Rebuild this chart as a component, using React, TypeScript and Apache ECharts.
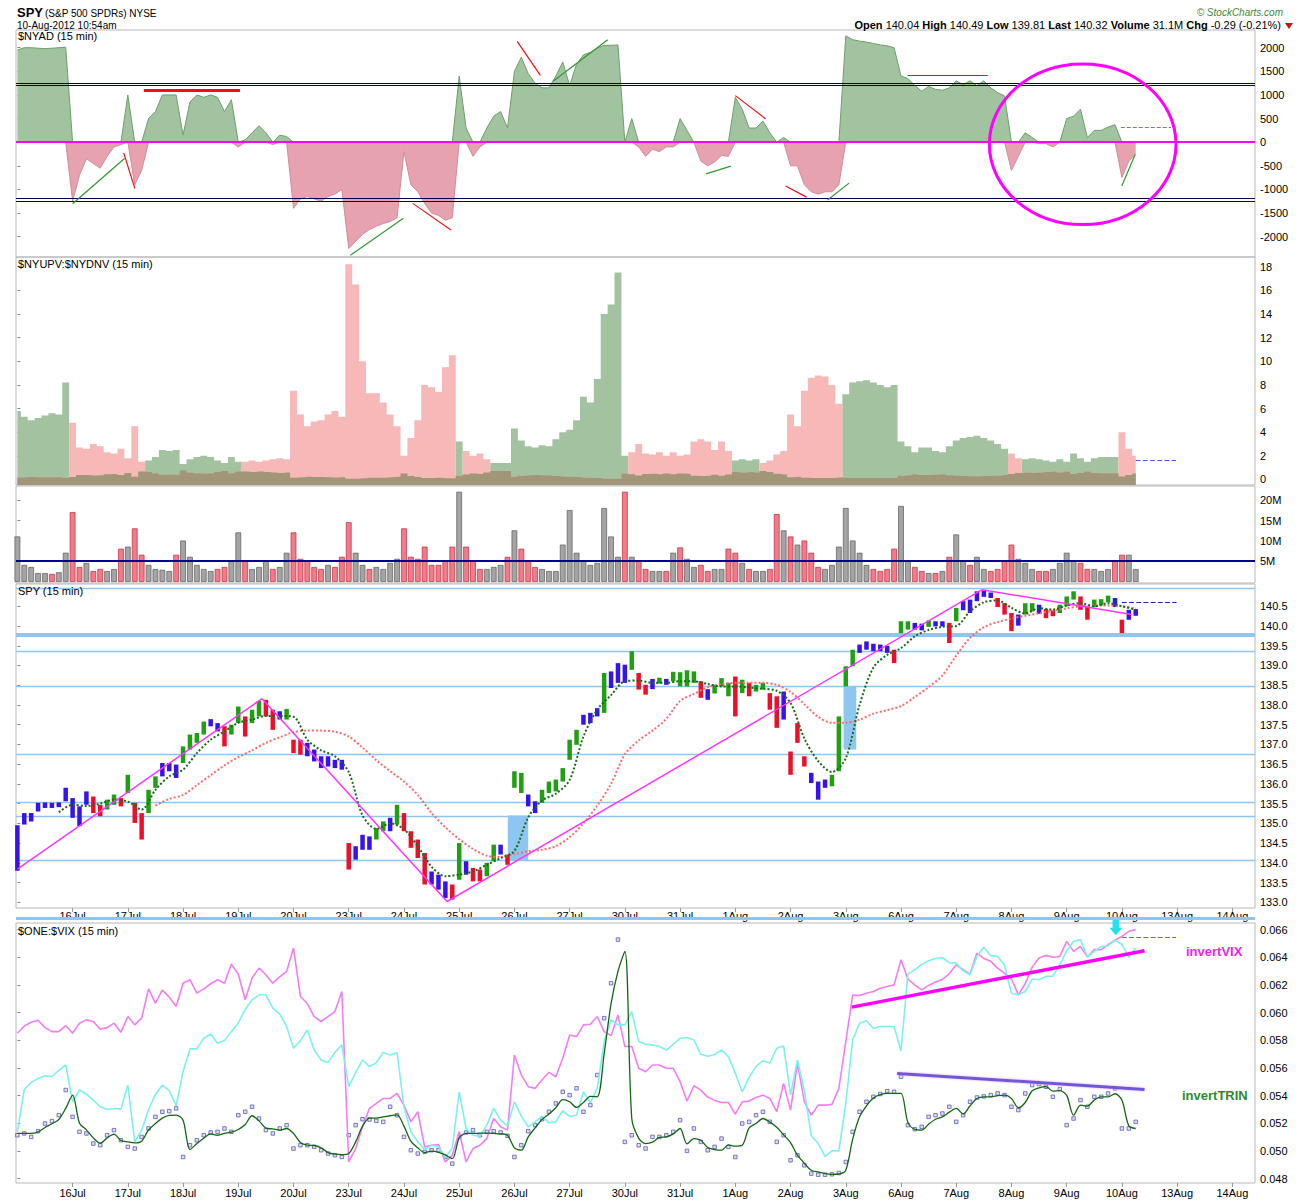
import React, { useEffect, useRef } from "react";
import * as echarts from "echarts";

// ---------- axes / time ----------
const STEP = 1 / 8; // trading-day fraction per data point
const MA_STEP = 1 / 4;
const GREEN_MA_START = 0.75;
const RED_MA_START = 2.5;
const X_MIN = -0.025;
const X_MAX = 22.41;

const DAY_LABELS = ["13Jul", "16Jul", "17Jul", "18Jul", "19Jul", "20Jul", "23Jul", "24Jul", "25Jul", "26Jul", "27Jul", "30Jul", "31Jul", "1Aug", "2Aug", "3Aug", "6Aug", "7Aug", "8Aug", "9Aug", "10Aug", "13Aug", "14Aug"];
const DAY_TICKS = [1, 2, 3, 4, 5, 6, 7, 8, 9, 10, 11, 12, 13, 14, 15, 16, 17, 18, 19, 20, 21, 22];

const NYAD_TICKS = [-2000, -1500, -1000, -500, 0, 500, 1000, 1500, 2000];
const RATIO_TICKS = [0, 2, 4, 6, 8, 10, 12, 14, 16, 18];
const VOL_TICKS = [5, 10, 15, 20];
const SPY_TICKS = [133.0, 133.5, 134.0, 134.5, 135.0, 135.5, 136.0, 136.5, 137.0, 137.5, 138.0, 138.5, 139.0, 139.5, 140.0, 140.5];
const VIX_TICKS = [0.048, 0.05, 0.052, 0.054, 0.056, 0.058, 0.06, 0.062, 0.064, 0.066];

// ---------- $NYAD ----------
const nyad = [
  1950, 2000, 2000, 1990, 1980, 1990, 2000, 2010,
  -1250, -700, -350, -450, -550, -300, -100, -50,
  1000, -900, -600, 500, 650, 1000, 1000, 1000,
  150, 850, 1000, 950, 1000, 950, 650, 900,
  -100, 50, 200, 350, 200, -50, 150, 120,
  -1400, -1200, -1150, -1200, -1250, -1150, -1100, -1000,
  -2250, -2100, -1950, -1850, -1780, -1720, -1680, -1600,
  -200, -900, -1050, -1300, -1500, -1550, -1650, -1600,
  1400, 300, -300, -100, 300, 550, 650, 300,
  1500, 1800, 1450, 1250, 1150, 1150, 1400, 1700,
  1200, 1650, 1850, 1900, 1990, 2050, 2050, 2060,
  0, 500, -100, -300, -150, -200, -100, -100,
  500, 250, 0, -400, -500, -420, -280, -300,
  950, 700, 300, 300, 450, 200, 0, 100,
  -500, -500, -900, -1050, -1100, -1050, -1050, -900,
  2250, 2170, 2140, 2120, 2090, 2060, 2040, 2000,
  1400, 1350, 1200, 1080, 1180, 1120, 1100, 1150,
  1300, 1220, 1300, 1200, 1300, 1150, 1050, 980,
  -600, -300, 200, 100, -30, -30, -100, 0,
  500, 550, 700, 100, 250, 250, 320, 370,
  -750, -400, -250,
];
const NYAD_LEVELS = [1258, 1196, -1188, -1250];
const nyadGreenLines = [
  [1.0, -1302, 1.94, -345],
  [6.03, -2394, 6.99, -1612],
  [9.7, 1288, 10.69, 2168],
  [12.47, -669, 12.92, -507],
  [14.67, -1225, 15.06, -866],
  [19.997, -929, 20.24, -260],
];
const nyadRedLines = [
  [1.925, -225, 2.127, -979],
  [7.16, -1295, 7.85, -1859],
  [9.05, 2133, 9.47, 1415],
  [13.0, 986, 13.55, 493],
  [13.91, -929, 14.29, -1162],
  [16.12, 1415, 17.57, 1415],
];
const nyadThickRedLine = [2.29, 1091, 4.03, 1091];
const nyadLastLine = [19.98, 317, 20.89, 317];
const nyadCircle = [19.29, -43, 1.69, 1700]; // centre t, centre value, radius in days, radius in value

// ---------- $NYUPV:$NYDNV (dominant side ratio: + up volume dominant, - down volume dominant) ----------
const dominantRatio = [
  5.8, 5.3, 5.0, 5.2, 5.4, 5.6, 5.5, 8.2,
  -4.8, -2.7, -2.6, -3.0, -2.8, -2.3, -2.2, -2.6,
  -1.8, -4.5, -1.5, 1.6, 1.9, 2.5, 2.4, 2.5,
  1.3, 1.7, 1.9, 2.0, 1.9, 1.6, 1.4, 1.9,
  1.5, -1.5, -1.6, -1.5, -1.6, -1.7, -1.8, -1.7,
  -7.5, -5.5, -4.5, -4.9, -5.0, -5.5, -5.8, -5.3,
  -18.2, -16.5, -10.0, -7.3, -7.3, -6.5, -5.5, -4.5,
  -2.0, -3.5, -5.0, -8.0, -7.8, -7.4, -9.5, -10.5,
  3.2, -2.4, -2.0, -2.2, -1.7, 1.4, 1.4, 1.4,
  4.3, 3.3, 2.8, 2.7, 2.9, 2.8, 3.4, 4.0,
  4.2, 5.0, 7.0, 6.5, 8.5, 14.0, 14.8, 17.5,
  2.0, -2.3, -3.0, -2.2, -2.1, -2.3, -2.0, -2.3,
  -2.0, -2.1, -3.2, -3.4, -3.2, -2.5, -3.2, -2.4,
  1.6, 1.7, 1.6, 1.7, -1.4, -1.6, -2.1, -2.4,
  -5.5, -4.5, -7.5, -8.6, -8.8, -8.7, -8.0, -6.4,
  7.2, 8.2, 8.3, 8.4, 8.2, 8.0, 7.8, 8.0,
  3.2, 2.8, 2.3, 2.7, 2.7, 2.4, 2.3, 2.8,
  3.3, 3.5, 3.6, 3.7, 3.5, 3.3, 3.0, 2.6,
  -2.2, -1.8, 1.7, 1.8, 1.7, 1.6, 1.5, 1.7,
  1.5, 2.2, 1.8, 1.5, 1.8, 1.9, 1.9, 1.9,
  -4.0, -2.6, -2.0,
];
const ratioLastLine = [20.25, 1.64, 20.98, 1.64];

// ---------- SPY volume (millions) ----------
const volume = [
  11, 4, 3.5, 2, 2, 1.8, 2.2, 7,
  17, 3.5, 4.5, 2.5, 3, 2.5, 3, 8,
  8.5, 13, 6.5, 4, 3, 2.8, 2.5, 6.5,
  10, 6, 4, 3, 2.5, 3, 3.5, 5,
  12, 5, 3, 3.5, 5, 3, 3.5, 7,
  12, 5.5, 5, 3.5, 3, 4, 3.5, 6,
  14.5, 7, 4, 3, 3.5, 3, 4.5, 5.5,
  13, 6, 5.5, 8.5, 4, 4, 5, 8.5,
  22, 8.5, 5, 3, 3, 3.5, 4, 6,
  12.5, 8, 5, 3.5, 3, 2.5, 2.5, 9,
  17.5, 7, 5, 4, 4.5, 18, 11, 6,
  22, 6, 5, 3, 2.5, 2.5, 2.5, 7,
  8.3, 5.5, 3.5, 4, 2.5, 3, 3, 8,
  7, 4.5, 3, 2.5, 2.5, 3, 16.5, 12.5,
  11, 9, 10, 7, 3.5, 3, 4, 8.5,
  18, 10, 7, 4, 3, 2.5, 3, 8,
  18.5, 5, 3.5, 2.5, 2, 2, 2.5, 6,
  11.5, 5, 4, 6, 3, 2.5, 3, 5,
  9, 5.5, 4.5, 3, 2.5, 2.5, 3, 4.5,
  7, 5, 4.5, 3, 3, 2.5, 3, 5,
  6.5, 6.5, 3,
];
const VOLUME_LEVEL = 5;

// ---------- SPY price ----------
const spyLow = [
  133.80, 134.97, 135.05, 135.30, 135.39, 135.39, 135.41, 135.56,
  135.14, 134.93, 135.47, 135.26, 135.18, 135.35, 135.47, 135.43,
  135.77, 135.01, 134.59, 135.26, 135.90, 136.19, 136.32, 136.15,
  136.53, 136.87, 137.04, 137.25, 137.46, 137.33, 136.95, 137.25,
  137.54, 137.20, 137.54, 137.71, 137.71, 137.37, 137.63, 137.63,
  136.78, 136.74, 136.70, 136.57, 136.40, 136.44, 136.40, 136.36,
  133.83, 134.08, 134.33, 134.33, 134.59, 134.80, 134.80, 134.97,
  134.80, 134.38, 134.12, 133.45, 133.45, 133.32, 133.11, 133.07,
  133.57, 133.70, 133.53, 133.53, 133.66, 134.04, 134.21, 133.95,
  135.90, 135.77, 135.43, 135.26, 135.52, 135.77, 135.81, 136.06,
  136.61, 136.99, 137.50, 137.54, 137.71, 137.80, 138.43, 138.56,
  138.56, 138.89, 138.39, 138.26, 138.40, 138.54, 138.51, 138.60,
  138.47, 138.47, 138.56, 138.18, 138.13, 138.29, 138.47, 138.22,
  137.71, 138.30, 138.22, 138.34, 138.39, 137.88, 137.42, 137.63,
  136.23, 137.04, 136.44, 136.02, 135.60, 135.90, 135.94, 136.32,
  138.47, 138.98, 139.32, 139.40, 139.36, 139.36, 139.32, 139.06,
  139.82, 139.91, 139.91, 139.89, 139.98, 139.99, 139.99, 139.57,
  140.12, 140.40, 140.33, 140.63, 140.74, 140.71, 140.48, 140.29,
  139.87, 140.01, 140.29, 140.37, 140.31, 140.20, 140.25, 140.33,
  140.50, 140.67, 140.41, 140.16, 140.48, 140.52, 140.60, 140.48,
  139.82, 140.16, 140.26,
];
const spyHigh = [
  134.95, 135.26, 135.26, 135.52, 135.53, 135.52, 135.53, 135.90,
  135.64, 135.43, 135.81, 135.68, 135.47, 135.60, 135.73, 135.64,
  136.23, 135.52, 135.26, 135.85, 136.19, 136.53, 136.53, 136.49,
  136.95, 137.25, 137.29, 137.58, 137.64, 137.54, 137.46, 137.50,
  137.96, 137.71, 137.88, 138.10, 138.13, 137.88, 137.84, 137.90,
  137.12, 137.12, 137.04, 136.87, 136.70, 136.70, 136.61, 136.61,
  134.50, 134.42, 134.71, 134.67, 134.88, 135.05, 135.14, 135.47,
  135.26, 134.80, 134.59, 134.25, 133.78, 133.70, 133.53, 133.45,
  134.50, 134.04, 133.87, 133.83, 134.00, 134.46, 134.46, 134.21,
  136.32, 136.28, 135.73, 135.56, 135.85, 136.06, 136.11, 136.40,
  137.12, 137.37, 137.75, 137.80, 137.92, 138.81, 138.85, 139.06,
  139.02, 139.36, 138.81, 138.51, 138.66, 138.69, 138.66, 138.84,
  138.83, 138.88, 138.85, 138.60, 138.40, 138.51, 138.68, 138.56,
  138.72, 138.64, 138.56, 138.51, 138.56, 138.30, 138.22, 138.34,
  136.82, 137.54, 136.70, 136.28, 136.06, 136.11, 136.23, 137.71,
  138.98, 139.40, 139.53, 139.61, 139.55, 139.53, 139.50, 139.40,
  140.12, 140.12, 140.08, 140.06, 140.14, 140.12, 140.12, 140.08,
  140.46, 140.63, 140.67, 140.88, 140.90, 140.85, 140.71, 140.58,
  140.33, 140.29, 140.58, 140.58, 140.54, 140.43, 140.40, 140.54,
  140.75, 140.88, 140.75, 140.50, 140.67, 140.68, 140.77, 140.71,
  140.16, 140.41, 140.43,
];
// impulse state: 1 bullish, 0 neutral, -1 bearish
const spyImpulse = [
  0, 0, 0, 0, 0, 0, 0, 0,
  0, 0, 0, -1, -1, 1, 1, -1,
  1, -1, -1, 1, 1, 0, 0, 0,
  1, 1, 1, 1, 0, 0, -1, 1,
  1, -1, 1, 1, -1, -1, 0, 1,
  -1, -1, 0, 0, 0, 0, 0, 0,
  -1, 0, 0, 0, 1, 1, 0, 1,
  -1, -1, -1, -1, 0, 0, 0, -1,
  1, 0, -1, -1, 1, 1, 0, -1,
  1, 1, 0, 0, 1, 1, 1, 1,
  1, 1, 0, 0, 0, 1, 0, 0,
  0, 1, -1, -1, 0, 1, 0, 1,
  1, 1, 1, -1, 0, 1, 1, 1,
  -1, 1, -1, 1, 1, -1, -1, 0,
  -1, -1, -1, 0, 0, 0, 1, 1,
  1, 1, 0, 0, 0, 0, 0, -1,
  1, 1, 0, 0, 1, 0, 0, -1,
  1, 0, 0, 0, 0, 0, -1, -1,
  -1, 0, 1, 1, 0, -1, -1, 1,
  1, 1, -1, -1, 1, 1, 1, 0,
  -1, 0, 0,
];
const spyFastMA = [
  135.28, 135.47, 135.44, 135.50, 135.60, 135.55, 135.35, 135.85, 136.19, 136.36,
  136.78, 137.12, 137.33, 137.55, 137.63, 137.72, 137.72, 137.70, 137.12, 136.85,
  136.70, 136.30, 135.20, 134.86, 135.00, 134.85, 134.42, 133.90, 133.66, 133.70,
  133.78, 133.95, 134.12, 134.30, 135.15, 135.58, 135.75, 136.10, 137.20, 137.88,
  138.25, 138.60, 138.62, 138.56, 138.56, 138.60, 138.60, 138.53, 138.47, 138.47,
  138.44, 138.41, 138.36, 138.05, 137.15, 136.58, 136.30, 136.65, 138.00, 138.95,
  139.27, 139.44, 139.74, 139.90, 139.98, 140.00, 140.37, 140.60, 140.65, 140.46,
  140.32, 140.45, 140.42, 140.52, 140.58, 140.50, 140.58, 140.50, 140.41,
];
const spySlowMA = [
  135.45, 135.62, 135.72, 135.97, 136.22, 136.47, 136.68, 136.85, 137.04, 137.18,
  137.31, 137.35, 137.35, 137.32, 137.20, 136.92, 136.60, 136.32, 136.06, 135.72,
  135.26, 134.90, 134.60, 134.35, 134.18, 134.15, 134.22, 134.29, 134.33, 134.42,
  134.65, 135.00, 135.45, 136.00, 136.75, 137.10, 137.35, 137.65, 138.10, 138.28,
  138.45, 138.53, 138.56, 138.56, 138.56, 138.51, 138.33, 138.02, 137.70, 137.55,
  137.55, 137.63, 137.78, 137.87, 137.97, 138.20, 138.45, 138.75, 139.25, 139.70,
  139.97, 140.10, 140.19, 140.26, 140.32, 140.39, 140.45, 140.50, 140.52, 140.52,
  140.50, 140.45,
];
const SPY_LEVELS = [140.96, 139.36, 138.47, 136.75, 135.53, 135.19, 134.07];
const SPY_KEY_LEVEL = 139.77;
const spyTrendLines = [
  [0, 133.84, 4.43, 138.16],
  [4.43, 138.16, 7.78, 133.02],
  [7.78, 133.02, 17.47, 140.92],
  [17.47, 140.92, 20.18, 140.29],
];
const spyGapBoxes = [
  [8.88, 135.2, 9.25, 134.06],
  [14.96, 138.47, 15.19, 136.87],
];
const spyLastLine = [20.0, 140.6, 20.99, 140.6];

// ---------- $ONE:$VIX panel ----------
const oneVix = [
  0.05139, 0.05445, 0.05496, 0.05525, 0.05544, 0.05537, 0.05583, 0.05622,
  0.05356, 0.05441, 0.05412, 0.05368, 0.05320, 0.05300, 0.05308, 0.05303,
  0.05477, 0.05066, 0.05151, 0.05300, 0.05409, 0.05477, 0.05436, 0.05327,
  0.05573, 0.05738, 0.05738, 0.05815, 0.05846, 0.05779, 0.05798, 0.05863,
  0.05924, 0.06023, 0.06093, 0.06129, 0.06129, 0.06032, 0.05991, 0.05900,
  0.05743, 0.05798, 0.05875, 0.05730, 0.05658, 0.05639, 0.05713, 0.05767,
  0.05465, 0.05566, 0.05658, 0.05610, 0.05639, 0.05713, 0.05694, 0.05711,
  0.05320, 0.05139, 0.05066, 0.05011, 0.05042, 0.05032, 0.04953, 0.05023,
  0.05428, 0.05163, 0.05114, 0.05107, 0.05187, 0.05308, 0.05223, 0.05180,
  0.05356, 0.05252, 0.05175, 0.05211, 0.05252, 0.05204, 0.05211, 0.05291,
  0.05250, 0.05259, 0.05428, 0.05349, 0.05453, 0.05791, 0.05948, 0.05912,
  0.05912, 0.06008, 0.05791, 0.05771, 0.05767, 0.05755, 0.05730, 0.05771,
  0.05815, 0.05820, 0.05803, 0.05699, 0.05685, 0.05697, 0.05730, 0.05682,
  0.05561, 0.05428, 0.05532, 0.05612, 0.05653, 0.05636, 0.05743, 0.05759,
  0.05404, 0.05658, 0.05436, 0.05112, 0.05054, 0.04962, 0.05001, 0.05003,
  0.05344, 0.05803, 0.05924, 0.05941, 0.05885, 0.05900, 0.05900, 0.05900,
  0.05723, 0.06279, 0.06310, 0.06349, 0.06375, 0.06392, 0.06397, 0.06361,
  0.06358, 0.06303, 0.06274, 0.06407, 0.06472, 0.06412, 0.06407, 0.06342,
  0.06141, 0.06129, 0.06153, 0.06243, 0.06238, 0.06262, 0.06264, 0.06346,
  0.06448, 0.06515, 0.06528, 0.06402, 0.06443, 0.06477, 0.06484, 0.06523,
  0.06494, 0.06400, 0.06467,
];
const invertVix = [
  0.05851, 0.05904, 0.05931, 0.05945, 0.05892, 0.05863, 0.05863, 0.05907,
  0.05851, 0.05924, 0.05948, 0.05936, 0.05880, 0.05892, 0.05924, 0.05858,
  0.05972, 0.05912, 0.05960, 0.06172, 0.06069, 0.06163, 0.06112, 0.06044,
  0.06213, 0.06238, 0.06141, 0.06172, 0.06209, 0.06238, 0.06213, 0.06351,
  0.06279, 0.06093, 0.06250, 0.06322, 0.06274, 0.06213, 0.06259, 0.06298,
  0.06467, 0.06117, 0.06066, 0.05972, 0.05936, 0.05972, 0.06008, 0.06153,
  0.04921, 0.05018, 0.05175, 0.05308, 0.05344, 0.05380, 0.05380, 0.05416,
  0.05332, 0.05211, 0.05284, 0.05030, 0.05042, 0.05047, 0.04921, 0.04970,
  0.05139, 0.04921, 0.05018, 0.05042, 0.05090, 0.05235, 0.05175, 0.05151,
  0.05694, 0.05549, 0.05465, 0.05453, 0.05513, 0.05569, 0.05537, 0.05670,
  0.05839, 0.05827, 0.05912, 0.05916, 0.05972, 0.05863, 0.05834, 0.05984,
  0.05755, 0.05755, 0.05598, 0.05573, 0.05622, 0.05622, 0.05598, 0.05598,
  0.05501, 0.05361, 0.05472, 0.05440, 0.05390, 0.05366, 0.05351, 0.05351,
  0.05267, 0.05356, 0.05361, 0.05387, 0.05404, 0.05380, 0.05284, 0.05489,
  0.05296, 0.05634, 0.05356, 0.05259, 0.05332, 0.05332, 0.05337, 0.05453,
  0.05791, 0.06127, 0.06124, 0.06141, 0.06153, 0.06177, 0.06189, 0.06201,
  0.06383, 0.06243, 0.06201, 0.06165, 0.06197, 0.06221, 0.06240, 0.06281,
  0.06346, 0.06310, 0.06279, 0.06431, 0.06392, 0.06371, 0.06322, 0.06284,
  0.06243, 0.06129, 0.06211, 0.06329, 0.06395, 0.06414, 0.06400, 0.06407,
  0.06515, 0.06443, 0.06479, 0.06402, 0.06457, 0.06455, 0.06491, 0.06523,
  0.06552, 0.06588, 0.06600,
];
const invertTrin = [
  0.05114, 0.05127, 0.05102, 0.05143, 0.05199, 0.05216, 0.05259, 0.05441,
  0.05247, 0.05139, 0.05127, 0.05054, 0.05042, 0.05114, 0.05151, 0.05078,
  0.05030, 0.05018, 0.05102, 0.05163, 0.05247, 0.05284, 0.05288, 0.05308,
  0.04957, 0.05042, 0.05078, 0.05114, 0.05134, 0.05139, 0.05163, 0.05139,
  0.05259, 0.05284, 0.05320, 0.05235, 0.05151, 0.05127, 0.05163, 0.05187,
  0.05018, 0.05042, 0.05042, 0.05030, 0.05006, 0.04982, 0.04970, 0.04957,
  0.05114, 0.05187, 0.05230, 0.05228, 0.05218, 0.05211, 0.05320, 0.05259,
  0.05102, 0.05006, 0.04982, 0.04994, 0.05006, 0.05006, 0.04957, 0.04909,
  0.05102, 0.05134, 0.05151, 0.05114, 0.05139, 0.05143, 0.05134, 0.05110,
  0.04957, 0.05042, 0.05143, 0.05187, 0.05230, 0.05284, 0.05344, 0.05428,
  0.05404, 0.05453, 0.05284, 0.05332, 0.05549, 0.05960, 0.06213, 0.06528,
  0.05066, 0.05114, 0.05042, 0.05018, 0.05102, 0.05102, 0.05114, 0.05139,
  0.05223, 0.05001, 0.05163, 0.05066, 0.05006, 0.05030, 0.05090, 0.05030,
  0.04957, 0.05199, 0.05211, 0.05259, 0.05284, 0.05211, 0.05066, 0.05114,
  0.04933, 0.04970, 0.04897, 0.04837, 0.04829, 0.04829, 0.04832, 0.04841,
  0.04921, 0.05139, 0.05284, 0.05356, 0.05392, 0.05412, 0.05433, 0.05428,
  0.05537, 0.05187, 0.05158, 0.05175, 0.05247, 0.05259, 0.05271, 0.05320,
  0.05211, 0.05259, 0.05356, 0.05387, 0.05395, 0.05404, 0.05416, 0.05404,
  0.05320, 0.05296, 0.05416, 0.05477, 0.05484, 0.05465, 0.05392, 0.05448,
  0.05187, 0.05235, 0.05368, 0.05320, 0.05392, 0.05392, 0.05416, 0.05453,
  0.05163, 0.05163, 0.05211,
];
const invertTrinAvg = [
  0.05127, 0.05127, 0.05127, 0.05139, 0.05170, 0.05197, 0.05228, 0.05308,
  0.05404, 0.05201, 0.05153, 0.05095, 0.05057, 0.05095, 0.05122, 0.05076,
  0.05066, 0.05059, 0.05071, 0.05153, 0.05199, 0.05238, 0.05257, 0.05259,
  0.05223, 0.05011, 0.05054, 0.05093, 0.05124, 0.05114, 0.05127, 0.05136,
  0.05156, 0.05192, 0.05255, 0.05218, 0.05165, 0.05160, 0.05151, 0.05163,
  0.05127, 0.05061, 0.05042, 0.05040, 0.05023, 0.04989, 0.04977, 0.04974,
  0.04982, 0.05066, 0.05180, 0.05238, 0.05238, 0.05247, 0.05255, 0.05262,
  0.05180, 0.05071, 0.05023, 0.04989, 0.04999, 0.04991, 0.04972, 0.04945,
  0.05095, 0.05127, 0.05127, 0.05129, 0.05129, 0.05127, 0.05124, 0.05114,
  0.05023, 0.05006, 0.05102, 0.05168, 0.05228, 0.05267, 0.05313, 0.05371,
  0.05356, 0.05315, 0.05351, 0.05395, 0.05392, 0.05704, 0.06066, 0.06298,
  0.06443, 0.05235, 0.05093, 0.05054, 0.05064, 0.05098, 0.05102, 0.05124,
  0.05163, 0.05052, 0.05090, 0.05078, 0.05025, 0.05011, 0.05006, 0.05044,
  0.05035, 0.05042, 0.05168, 0.05199, 0.05235, 0.05209, 0.05172, 0.05117,
  0.05061, 0.04970, 0.04912, 0.04861, 0.04849, 0.04837, 0.04832, 0.04834,
  0.04861, 0.05086, 0.05247, 0.05327, 0.05383, 0.05407, 0.05416, 0.05416,
  0.05416, 0.05206, 0.05156, 0.05151, 0.05194, 0.05230, 0.05247, 0.05281,
  0.05308, 0.05267, 0.05327, 0.05380, 0.05392, 0.05392, 0.05400, 0.05404,
  0.05380, 0.05313, 0.05351, 0.05436, 0.05457, 0.05465, 0.05433, 0.05436,
  0.05402, 0.05259, 0.05332, 0.05325, 0.05368, 0.05392, 0.05392, 0.05414,
  0.05368, 0.05182, 0.05163,
];
const vixTrendLine = [15.11, 0.0604, 20.41, 0.06448];
const trinTrendLine = [15.93, 0.05561, 20.41, 0.05445];
const vixLastLine = [20.0, 0.06547, 20.98, 0.06547];
const vixArrowAt = [19.89, 0.0656];

// ---------- styling ----------
const FONT = "'Liberation Sans', Arial, Helvetica, sans-serif";
const GRID_BOX = { left: 16, right: 45 };

const tAt = (i: number) => Math.round(i * STEP * 10000) / 10000;
const seg = (a: number[], lineStyle: any) => [
  { coord: [a[0], a[1]], lineStyle },
  { coord: [a[2], a[3]] },
];

function xAxis(gridIndex: number, withLabels: boolean, labelMargin: number) {
  return {
    type: "value",
    gridIndex,
    min: X_MIN,
    max: X_MAX,
    axisLine: { show: false },
    splitLine: { show: false },
    axisTick: withLabels
      ? { show: true, customValues: DAY_TICKS, length: 4, lineStyle: { color: "#999" } }
      : { show: false },
    axisLabel: withLabels
      ? {
          show: true,
          customValues: DAY_TICKS,
          margin: labelMargin,
          fontSize: 11,
          fontFamily: FONT,
          color: "#000",
          formatter: (v: number) => DAY_LABELS[Math.round(v)] || "",
        }
      : { show: false },
  };
}

function yAxis(gridIndex: number, min: number, max: number, ticks: number[], fmt: (v: number) => string) {
  return {
    type: "value",
    gridIndex,
    min,
    max,
    position: "right",
    axisLine: { show: false },
    splitLine: { show: false },
    axisTick: { show: true, customValues: ticks, length: 3, lineStyle: { color: "#888" } },
    axisLabel: {
      show: true,
      customValues: ticks,
      margin: 5,
      fontSize: 11,
      fontFamily: FONT,
      color: "#000",
      formatter: fmt,
    },
  };
}

function buildOption(): any {
  const grids = [
    { top: 30, height: 227 },
    { top: 257, height: 228 },
    { top: 486, height: 97 },
    { top: 584, height: 324 },
    { top: 923, height: 260 },
  ].map((g) => ({ ...g, ...GRID_BOX, show: true, borderColor: "#b8b8b8", borderWidth: 1, backgroundColor: "transparent" }));

  // --- NYAD ---
  const nyadPos = nyad.map((v, i) => [tAt(i), Math.max(v, 0)]);
  const nyadNeg = nyad.map((v, i) => [tAt(i), Math.min(v, 0)]);

  // --- ratio ---
  const upSide = dominantRatio.map((v, i) => [tAt(i), v > 0 ? v : 1 / -v]);
  const downSide = dominantRatio.map((v, i) => [tAt(i), v > 0 ? 1 / v : -v]);
  const overlap = dominantRatio.map((v, i) => [tAt(i), Math.min(Math.abs(v), 1 / Math.abs(v))]);

  // --- SPY ---
  const bars = spyLow.map((lo, i) => [tAt(i), lo, spyHigh[i], spyImpulse[i]]);
  const mids = spyLow.map((lo, i) => (lo + spyHigh[i]) / 2);
  const vol = volume.map((v, i) => [tAt(i), v, i > 0 && mids[i] < mids[i - 1] ? 1 : 0]);
  const fastMA = spyFastMA.map((v, i) => [GREEN_MA_START + i * MA_STEP, v]);
  const slowMA = spySlowMA.map((v, i) => [RED_MA_START + i * MA_STEP, v]);

  const impulseColor = (s: number) => (s > 0 ? "#1fa012" : s < 0 ? "#ec0f2a" : "#3512ee");

  const noSym = { symbol: "none", showSymbol: false };
  const mlBase = { symbol: ["none", "none"], silent: true, label: { show: false }, animation: false };

  const series: any[] = [
    // ----- panel 0 : $NYAD -----
    {
      type: "line",
      name: "nyadUp",
      xAxisIndex: 0,
      yAxisIndex: 0,
      data: nyadPos,
      ...noSym,
      lineStyle: { color: "#6f9d6b", width: 1 },
      areaStyle: { color: "#a2c39f", opacity: 1 },
    },
    {
      type: "line",
      name: "nyadDown",
      xAxisIndex: 0,
      yAxisIndex: 0,
      data: nyadNeg,
      ...noSym,
      lineStyle: { color: "#cf8d9b", width: 1 },
      areaStyle: { color: "#e7a2b0", opacity: 1 },
      markLine: {
        ...mlBase,
        data: [
          { yAxis: 0, lineStyle: { color: "#ff00ff", width: 2, type: "solid" } },
          ...NYAD_LEVELS.map((v) => ({ yAxis: v, lineStyle: { color: "#000050", width: 1, type: "solid" } })),
          ...nyadGreenLines.map((a) => seg(a, { color: "#2f9a2f", width: 1.2, type: "solid" })),
          ...nyadRedLines.map((a) => seg(a, { color: "#ee1111", width: 1.2, type: "solid" })),
          seg(nyadThickRedLine, { color: "#ee1111", width: 3, type: "solid" }),
          seg(nyadLastLine, { color: "#7070ee", width: 1, type: "dashed" }),
        ],
      },
    },
    // ----- panel 1 : $NYUPV:$NYDNV -----
    {
      type: "line",
      name: "upVol",
      xAxisIndex: 1,
      yAxisIndex: 1,
      data: upSide,
      step: "middle",
      ...noSym,
      lineStyle: { width: 0, color: "#a2c2a0" },
      areaStyle: { color: "#a2c2a0", opacity: 1, origin: "start" },
    },
    {
      type: "line",
      name: "downVol",
      xAxisIndex: 1,
      yAxisIndex: 1,
      data: downSide,
      step: "middle",
      ...noSym,
      lineStyle: { width: 0, color: "#f7b8b8" },
      areaStyle: { color: "#f7b8b8", opacity: 1, origin: "start" },
    },
    {
      type: "line",
      name: "overlap",
      xAxisIndex: 1,
      yAxisIndex: 1,
      data: overlap,
      step: "middle",
      ...noSym,
      lineStyle: { width: 0, color: "#a29679" },
      areaStyle: { color: "#a29679", opacity: 1, origin: "start" },
      markLine: {
        ...mlBase,
        data: [seg(ratioLastLine, { color: "#5050e0", width: 1.2, type: "dashed" })],
      },
    },
    // ----- panel 2 : volume -----
    {
      type: "custom",
      name: "volume",
      xAxisIndex: 2,
      yAxisIndex: 2,
      data: vol,
      encode: { x: 0, y: 1 },
      renderItem: (params: any, api: any) => {
        const t = api.value(0);
        const v = api.value(1);
        const red = api.value(2) === 1;
        const p0 = api.coord([t, 0]);
        const p1 = api.coord([t, v]);
        const w = 5;
        return {
          type: "rect",
          shape: { x: p1[0] - w / 2, y: p1[1], width: w, height: Math.max(1, p0[1] - p1[1]) },
          style: { fill: red ? "#f07c8a" : "#a4a4a4", stroke: red ? "#c0283c" : "#5a5a5a", lineWidth: 0.7 },
        };
      },
    },
    {
      type: "line",
      name: "volLevel",
      xAxisIndex: 2,
      yAxisIndex: 2,
      data: [],
      ...noSym,
      markLine: {
        ...mlBase,
        data: [{ yAxis: VOLUME_LEVEL, lineStyle: { color: "#000090", width: 2, type: "solid" } }],
      },
    },
    // ----- panel 3 : SPY -----
    {
      type: "line",
      name: "spyLevels",
      xAxisIndex: 3,
      yAxisIndex: 3,
      data: [],
      ...noSym,
      markLine: {
        ...mlBase,
        z: 1,
        data: [
          ...SPY_LEVELS.map((v) => ({ yAxis: v, lineStyle: { color: "#8ec6f2", width: 1.4, type: "solid" } })),
          { yAxis: SPY_KEY_LEVEL, lineStyle: { color: "#8ec6f2", width: 4, type: "solid" } },
        ],
      },
      markArea: {
        silent: true,
        itemStyle: { color: "#8ec6f2", opacity: 1 },
        data: spyGapBoxes.map((b) => [{ coord: [b[0], b[1]] }, { coord: [b[2], b[3]] }]),
      },
    },
    {
      type: "custom",
      name: "spy",
      xAxisIndex: 3,
      yAxisIndex: 3,
      data: bars,
      encode: { x: 0, y: [1, 2] },
      renderItem: (params: any, api: any) => {
        const t = api.value(0);
        const lo = api.value(1);
        const hi = api.value(2);
        const s = api.value(3);
        const pHi = api.coord([t, hi]);
        const pLo = api.coord([t, lo]);
        const w = 4.5;
        return {
          type: "rect",
          shape: { x: pHi[0] - w / 2, y: pHi[1], width: w, height: Math.max(1.5, pLo[1] - pHi[1]) },
          style: { fill: impulseColor(s) },
        };
      },
    },
    {
      type: "line",
      name: "slowMA",
      xAxisIndex: 3,
      yAxisIndex: 3,
      data: slowMA,
      smooth: 0.3,
      ...noSym,
      lineStyle: { color: "#ff6a6a", width: 2, type: "dotted" },
    },
    {
      type: "line",
      name: "fastMA",
      xAxisIndex: 3,
      yAxisIndex: 3,
      data: fastMA,
      smooth: 0.3,
      ...noSym,
      lineStyle: { color: "#1b6a1b", width: 2, type: "dotted" },
      markLine: {
        ...mlBase,
        data: [
          ...spyTrendLines.map((a) => seg(a, { color: "#ff33ff", width: 1.5, type: "solid" })),
          seg(spyLastLine, { color: "#2020c0", width: 1.2, type: "dashed" }),
        ],
      },
    },
    // ----- panel 4 : $ONE:$VIX -----
    {
      type: "line",
      name: "invertVIX",
      xAxisIndex: 4,
      yAxisIndex: 4,
      data: invertVix.map((v, i) => [tAt(i), v]),
      ...noSym,
      lineStyle: { color: "#f47df4", width: 1.6 },
    },
    {
      type: "line",
      name: "$ONE:$VIX",
      xAxisIndex: 4,
      yAxisIndex: 4,
      data: oneVix.map((v, i) => [tAt(i), v]),
      ...noSym,
      lineStyle: { color: "#7cf0f0", width: 1.6 },
    },
    {
      type: "scatter",
      name: "invertTRIN",
      xAxisIndex: 4,
      yAxisIndex: 4,
      data: invertTrin.map((v, i) => [tAt(i), v]),
      symbol: "rect",
      symbolSize: 3.5,
      itemStyle: { color: "#d6d6f6", borderColor: "#5c5cb4", borderWidth: 1 },
    },
    {
      type: "line",
      name: "invertTRINavg",
      xAxisIndex: 4,
      yAxisIndex: 4,
      data: invertTrinAvg.map((v, i) => [tAt(i), v]),
      smooth: 0.3,
      ...noSym,
      lineStyle: { color: "#136613", width: 1.3 },
      markLine: {
        ...mlBase,
        data: [
          seg(vixTrendLine, { color: "#ff00ff", width: 3.5, type: "solid" }),
          seg(trinTrendLine, { color: "#6a5ad8", width: 3, type: "solid", shadowColor: "#f3a0f3", shadowBlur: 2 }),
          seg(vixLastLine, { color: "#6b5ce0", width: 1.2, type: "dashed" }),
        ],
      },
      markPoint: {
        silent: true,
        animation: false,
        symbol: "path://M3,0 L9,0 L9,8 L12,8 L6,15 L0,8 L3,8 Z",
        symbolSize: [13, 16],
        symbolOffset: [0, -8],
        itemStyle: { color: "#22e2ef" },
        label: { show: false },
        data: [{ coord: vixArrowAt }],
      },
    },
  ];

  const text = (id: string, x: number, y: number, str: string, extra: any = {}) => ({
    id,
    type: "text",
    x,
    y,
    silent: true,
    z: 50,
    style: {
      text: str,
      fontSize: 11,
      fontFamily: FONT,
      fill: "#000",
      align: "left",
      verticalAlign: "middle",
      ...extra,
    },
  });

  const graphic = [
    { id: "sep", type: "rect", silent: true, z: 40, shape: { x: 16, y: 917, width: 1239, height: 3 }, style: { fill: "#8ec6f2" } },
    text("hSym", 17, 12, "SPY", { fontSize: 13, fontWeight: "bold" }),
    text("hName", 45, 13, "(S&P 500 SPDRs) NYSE", { fontSize: 10 }),
    text("hDate", 17, 25, "10-Aug-2012 10:54am", { fontSize: 10 }),
    text("hCopy", 1283, 12, "© StockCharts.com", { fontSize: 10, fill: "#3a8a3a", align: "right", fontStyle: "italic" }),
    text(
      "hQuote",
      1281,
      25,
      "{b|Open} 140.04 {b|High} 140.49 {b|Low} 139.81 {b|Last} 140.32 {b|Volume} 31.1M {b|Chg} -0.29 (-0.21%)",
      {
        fontSize: 11,
        align: "right",
        rich: { b: { fontWeight: "bold", fontSize: 11, fontFamily: FONT, fill: "#000" } },
      }
    ),
    {
      id: "hTri",
      type: "polygon",
      silent: true,
      z: 50,
      shape: { points: [[1285, 23], [1293, 23], [1289, 29]] },
      style: { fill: "#cc1111" },
    },
    text("p0", 18, 36, "$NYAD (15 min)"),
    text("p1", 18, 264, "$NYUPV:$NYDNV (15 min)"),
    text("p3", 18, 591, "SPY (15 min)"),
    text("p4", 18, 931, "$ONE:$VIX (15 min)"),
    text("lVix", 1186, 951, "invertVIX", { fontSize: 13, fontWeight: "bold", fill: "#ee22ee" }),
    text("lTrin", 1182, 1095, "invertTRIN", { fontSize: 13, fontWeight: "bold", fill: "#2e8a2e" }),
  ];

  return {
    animation: false,
    backgroundColor: "#ffffff",
    grid: grids,
    xAxis: [xAxis(0, false, 0), xAxis(1, false, 0), xAxis(2, false, 0), xAxis(3, true, 2), xAxis(4, true, 4)],
    yAxis: [
      yAxis(0, -2430, 2375, NYAD_TICKS, (v) => String(v)),
      yAxis(1, -0.47, 18.82, RATIO_TICKS, (v) => String(v)),
      yAxis(2, -0.35, 23.5, VOL_TICKS, (v) => `${v}M`),
      yAxis(3, 132.855, 141.065, SPY_TICKS, (v) => v.toFixed(1)),
      yAxis(4, 0.04769, 0.06648, VIX_TICKS, (v) => v.toFixed(3)),
    ],
    series,
    graphic,
  };
}

export default function App() {
  const ref = useRef<HTMLDivElement>(null);
  useEffect(() => {
    document.body.style.margin = "0";
    const el = ref.current;
    if (!el) return;
    const chart = echarts.init(el, null, { renderer: "svg" });
    chart.setOption(buildOption());
    try {
      const c = chart.convertToPixel({ gridIndex: 0 }, [nyadCircle[0], nyadCircle[1]]) as any;
      const e = chart.convertToPixel({ gridIndex: 0 }, [nyadCircle[0] + nyadCircle[2], nyadCircle[1] + nyadCircle[3]]) as any;
      if (c && e) {
        chart.setOption({
          graphic: [
            {
              id: "nyadCircle",
              type: "ellipse",
              silent: true,
              z: 60,
              shape: { cx: c[0], cy: c[1], rx: Math.abs(e[0] - c[0]), ry: Math.abs(e[1] - c[1]) },
              style: { fill: "none", stroke: "#ff00ff", lineWidth: 3 },
            },
          ],
        });
      }
    } catch (err) {
      // ignore
    }
    return () => chart.dispose();
  }, []);
  return <div ref={ref} style={{ width: 1300, height: 1200 }} />;
}
